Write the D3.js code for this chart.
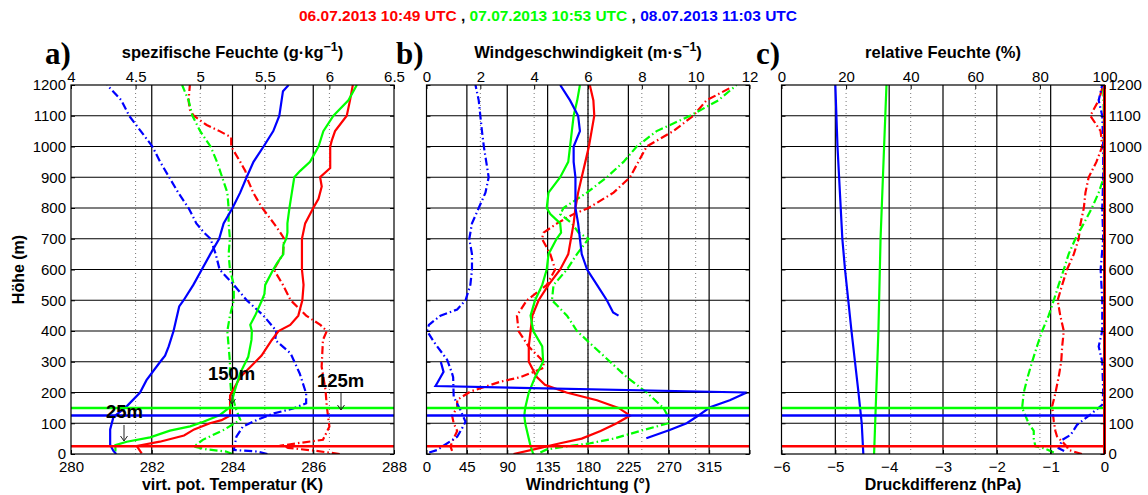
<!DOCTYPE html>
<html>
<head>
<meta charset="utf-8">
<style>
body
{
  margin:0;
  background:#fff;
}
text { font-family: "Liberation Sans", Arial, sans-serif; }
</style>
<script src="https://cdnjs.cloudflare.com/ajax/libs/d3/7.8.5/d3.min.js"></script>
</head>
<body>
<script>
// pairs are [height (m), value]
// a) virt. pot. Temperatur (K), solid
var tRed = [[2,281.75],[26,281.63],[40,282.2],[60,282.8],[80,283.05],[100,283.44],[110,283.73],[125,283.94],[190,283.94],[250,284.19],[320,284.72],[370,284.97],[400,285.14],[420,285.43],[450,285.63],[500,285.73],[550,285.76],[600,285.72],[700,285.72],[750,285.8],[800,286.0],[830,286.13],[870,286.21],[900,286.17],[930,286.42],[1000,286.42],[1020,286.46],[1050,286.54],[1100,286.83],[1150,286.91],[1200,286.98]];
var tGreen = [[8,281.1],[29,281.1],[40,281.38],[54,281.96],[76,282.45],[90,282.95],[105,283.28],[127,283.69],[154,283.95],[208,284.06],[263,284.19],[316,284.39],[371,284.47],[400,284.48],[420,284.44],[450,284.56],[500,284.73],[520,284.79],[550,284.81],[600,285.01],[620,285.1],[650,285.26],[680,285.26],[700,285.33],[720,285.36],[750,285.36],[800,285.41],[850,285.47],[900,285.53],[920,285.67],[950,285.92],[1000,286.13],[1050,286.25],[1100,286.5],[1150,286.87],[1200,287.08]];
var tBlue = [[0,281.12],[10,281.05],[30,280.97],[80,280.97],[120,281.05],[155,281.38],[200,281.71],[240,281.87],[300,282.21],[320,282.33],[350,282.42],[400,282.54],[480,282.68],[500,282.79],[550,283.03],[600,283.24],[650,283.45],[700,283.67],[750,283.78],[800,284.0],[850,284.19],[900,284.35],[950,284.52],[1000,284.77],[1050,285.01],[1100,285.16],[1180,285.25],[1200,285.39]];
// a) spezifische Feuchte (g/kg), dash-dot
var qRed = [[0,6.08],[10,5.9],[20,5.68],[28,5.64],[35,5.75],[46,5.95],[89,6.0],[154,5.98],[208,5.97],[284,5.94],[371,5.95],[400,5.98],[420,5.93],[450,5.82],[500,5.7],[550,5.64],[600,5.57],[650,5.64],[700,5.65],[720,5.62],[750,5.57],[800,5.48],[850,5.41],[900,5.36],[920,5.35],[950,5.31],[1000,5.24],[1030,5.24],[1050,5.15],[1070,5.05],[1100,4.95],[1120,4.92],[1150,4.91],[1200,4.92]];
var qGreen = [[0,5.25],[8,5.2],[15,5.05],[24,4.95],[46,5.02],[78,5.18],[111,5.31],[143,5.28],[200,5.24],[250,5.23],[300,5.23],[350,5.22],[400,5.21],[450,5.23],[500,5.26],[550,5.26],[600,5.23],[650,5.22],[700,5.23],[750,5.22],[800,5.22],[850,5.21],[900,5.17],[950,5.13],[1000,5.08],[1050,5.0],[1100,4.94],[1150,4.91],[1200,4.86]];
var qBlue = [[0,5.52],[8,5.44],[13,5.26],[56,5.28],[89,5.33],[111,5.44],[132,5.57],[148,5.72],[165,5.82],[197,5.82],[262,5.77],[327,5.7],[371,5.58],[400,5.59],[450,5.49],[500,5.36],[550,5.26],[600,5.15],[650,5.12],[700,5.08],[720,5.03],[750,4.97],[800,4.91],[850,4.83],[900,4.76],[950,4.69],[1000,4.63],[1100,4.45],[1150,4.39],[1200,4.28]];

// b) Windrichtung (deg), solid
var dirRed = [[0,97],[20,127],[35,149],[50,173],[75,194],[100,212],[125,227],[150,214],[175,190],[200,156],[225,132],[250,123],[300,114],[350,114],[400,116],[450,118],[500,125],[550,136],[600,149],[650,158],[700,161],[750,164],[800,166],[850,169],[900,173],[950,177],[1000,181],[1050,184],[1100,187],[1150,186],[1200,182]];
var dirGreen = [[0,119],[25,116],[50,114],[100,110],[125,109],[150,110],[200,114],[250,121],[300,130],[350,129],[400,119],[450,116],[500,121],[550,129],[600,134],[650,136],[700,145],[720,150],[750,149],[780,138],[800,134],[850,136],[900,149],[950,158],[1000,160],[1050,162],[1100,164],[1150,168],[1200,171]];
var dirBlueLow = [[51,245],[78,271],[100,290],[121,301],[152,316],[175,338],[200,357],[221,10],[231,12],[267,19],[299,16]];
var dirBlueHigh = [[450,214],[460,208],[500,201],[550,190],[600,179],[650,173],[700,171],[750,169],[800,166],[850,166],[900,166],[950,164],[1000,164],[1050,171],[1100,169],[1150,160],[1200,149]];
// b) Windgeschwindigkeit (m/s), dash-dot
var spdRed = [[10,0.95],[25,0.89],[50,1.01],[75,1.14],[100,1.01],[125,0.95],[150,1.14],[176,1.14],[203,1.63],[235,2.74],[250,3.49],[280,4.35],[300,4.35],[350,3.79],[400,3.42],[450,3.36],[500,3.73],[550,4.47],[600,4.78],[650,4.6],[700,4.29],[720,4.35],[750,4.85],[780,5.46],[800,6.02],[850,6.95],[900,7.56],[950,7.87],[1000,8.18],[1050,9.17],[1100,9.91],[1150,10.4],[1190,11.27]];
var spdGreen = [[5,4.23],[15,4.47],[25,5.22],[35,6.08],[50,6.95],[75,7.94],[100,8.99],[120,8.99],[150,8.8],[200,8.18],[250,7.44],[300,6.82],[350,6.2],[400,5.59],[450,5.22],[500,4.66],[550,4.72],[600,5.22],[650,5.59],[700,6.02],[720,5.65],[750,5.4],[780,4.97],[800,5.09],[850,5.96],[900,6.7],[950,7.32],[1000,7.81],[1050,8.55],[1100,9.79],[1150,10.84],[1200,11.52]];
var spdBlue = [[5,0.1],[13,0.4],[25,0.6],[56,1.14],[80,1.3],[105,1.45],[143,1.26],[186,1.01],[250,0.99],[262,0.95],[306,0.77],[365,0.27],[400,0.02],[420,0.09],[450,0.52],[470,1.14],[500,1.45],[550,1.63],[600,1.69],[650,1.69],[700,1.59],[750,1.69],[800,1.94],[850,2.19],[900,2.31],[950,2.22],[1000,2.13],[1050,2.06],[1100,2.0],[1150,1.94],[1200,1.82]];

// c) Druckdifferenz (hPa), solid
var dpRed = [[0,0],[1200,0]];
var dpGreen = [[0,-4.28],[400,-4.2],[700,-4.16],[1200,-4.05]];
var dpBlue = [[0,-4.48],[100,-4.51],[200,-4.57],[400,-4.7],[600,-4.82],[700,-4.87],[1000,-4.96],[1200,-5.0]];
// c) relative Feuchte (%), dash-dot
var rhRed = [[0,93],[13,88.9],[25,88.3],[57,85.3],[75,84.8],[106,84.3],[155,83.8],[198,84.8],[250,85.8],[300,86.6],[350,86.9],[400,87.4],[450,86.3],[500,85.5],[550,86.9],[600,88.4],[650,90.5],[700,92.0],[750,92.6],[800,93.6],[850,94.1],[900,95.1],[950,97.5],[1000,99.3],[1050,98.8],[1100,95.6],[1150,98.2],[1200,99.6]];
var rhGreen = [[5,84.3],[19,81.2],[25,78.6],[50,78.1],[75,78.1],[100,76.5],[150,74.5],[200,75.0],[250,76.2],[300,77.6],[350,79.1],[400,80.7],[450,82.7],[500,84.3],[550,85.8],[600,87.4],[650,88.9],[700,91.0],[750,93.6],[800,96.1],[850,98.2],[900,99.8],[1000,99.8],[1100,99.8],[1200,99.6]];
var rhBlue = [[10,87.5],[19,85.8],[46,86.9],[62,89.5],[95,91.5],[128,95.6],[160,99.3],[200,99.6],[300,99.3],[350,98.2],[400,99.3],[500,99.3],[600,98.8],[700,99.6],[800,99.3],[900,99.6],[1000,99.6],[1100,99.3],[1150,98.2],[1200,99.3]];

// marked heights: 150 m (07.07), 125 m (08.07), 25 m (06.07)
var markHeights = [150, 125, 25];
var heightTicks = d3.range(0, 1201, 100);

var RED = "#ff0000", GREEN = "#00ff00", BLUE = "#0000ff";
var markColors = [GREEN, BLUE, RED];

var W = 1148, H = 495;
var plotTop = 85, plotBottom = 454, plotW = 323;

var svg = d3.select("body").append("svg")
  .attr("width", W)
  .attr("height", H);

var y = d3.scaleLinear().domain([0, 1200]).range([plotBottom, plotTop]);

var numFmt = function(d) { return String(+d.toFixed(2)).replace("-", "\u2212"); };

var panels = [
  {left: 71, label: "a)", labelX: 45,
   title: ["spezifische Feuchte (g\u00b7kg", "\u22121", ")"],
   xlabel: "virt. pot. Temperatur (K)",
   bot: [280, 288], botTicks: d3.range(280, 289, 2), botHide: [],
   top: [4, 6.5], topTicks: [4, 4.5, 5, 5.5, 6, 6.5],
   solid: [[tRed, RED], [tGreen, GREEN], [tBlue, BLUE]],
   dash: [[qRed, RED], [qGreen, GREEN], [qBlue, BLUE]]},
  {left: 426.5, label: "b)", labelX: 396,
   title: ["Windgeschwindigkeit (m\u00b7s", "\u22121", ")"],
   xlabel: "Windrichtung (\u00b0)",
   bot: [0, 360], botTicks: d3.range(0, 361, 45), botHide: [360],
   top: [0, 12], topTicks: d3.range(0, 13, 2),
   solid: [[dirRed, RED], [dirGreen, GREEN], [dirBlueLow, BLUE], [dirBlueHigh, BLUE]],
   dash: [[spdRed, RED], [spdGreen, GREEN], [spdBlue, BLUE]]},
  {left: 781.5, label: "c)", labelX: 756,
   title: ["relative Feuchte (%)"],
   xlabel: "Druckdifferenz (hPa)",
   bot: [-6, 0], botTicks: d3.range(-6, 0.1, 1), botHide: [],
   top: [0, 100], topTicks: d3.range(0, 101, 20),
   solid: [[dpGreen, GREEN], [dpBlue, BLUE]],
   dash: [[rhRed, RED], [rhGreen, GREEN], [rhBlue, BLUE]]}
];

// title line
var title = svg.append("text")
  .attr("x", 548)
  .attr("y", 21)
  .attr("text-anchor", "middle")
  .style("font-size", "15.5px")
  .style("font-weight", "bold");
title.append("tspan").attr("fill", RED).text("06.07.2013 10:49 UTC");
title.append("tspan").attr("fill", "#000").text(" , ");
title.append("tspan").attr("fill", GREEN).text("07.07.2013 10:53 UTC");
title.append("tspan").attr("fill", "#000").text(" , ");
title.append("tspan").attr("fill", BLUE).text("08.07.2013 11:03 UTC");

svg.append("text")
  .attr("transform", "translate(24," + ((plotTop + plotBottom) / 2) + ") rotate(-90)")
  .attr("text-anchor", "middle")
  .style("font-size", "16px")
  .style("font-weight", "bold")
  .text("H\u00f6he (m)");

panels.forEach(function(p, i) {
  var x0 = p.left, x1 = p.left + plotW;
  var xb = d3.scaleLinear().domain(p.bot).range([x0, x1]);
  var xt = d3.scaleLinear().domain(p.top).range([x0, x1]);
  var g = svg.append("g");

  var clipId = "clip" + i;
  svg.append("clipPath").attr("id", clipId)
    .append("rect").attr("x", x0).attr("y", plotTop).attr("width", plotW).attr("height", plotBottom - plotTop);

  // dotted grid from top axis
  g.selectAll(".dgrid").data(p.topTicks.slice(1, -1)).enter().append("line")
    .attr("x1", function(d) { return xt(d); }).attr("x2", function(d) { return xt(d); })
    .attr("y1", plotTop).attr("y2", plotBottom)
    .attr("stroke", "#777").attr("stroke-width", 1).attr("stroke-dasharray", "1,3");

  // solid grid from bottom axis and heights
  g.selectAll(".vgrid").data(p.botTicks.slice(1, -1)).enter().append("line")
    .attr("x1", function(d) { return xb(d); }).attr("x2", function(d) { return xb(d); })
    .attr("y1", plotTop).attr("y2", plotBottom)
    .attr("stroke", "#000").attr("stroke-width", 1.2);
  g.selectAll(".hgrid").data(heightTicks.slice(1, -1)).enter().append("line")
    .attr("x1", x0).attr("x2", x1)
    .attr("y1", function(d) { return y(d); }).attr("y2", function(d) { return y(d); })
    .attr("stroke", "#000").attr("stroke-width", 1.2);

  var curves = g.append("g").attr("clip-path", "url(#" + clipId + ")");

  p.dash.forEach(function(s) {
    var line = d3.line().x(function(d) { return xt(d[1]); }).y(function(d) { return y(d[0]); });
    curves.append("path").attr("d", line(s[0]))
      .attr("fill", "none").attr("stroke", s[1]).attr("stroke-width", 2.2)
      .attr("stroke-dasharray", "8,3,1.5,3");
  });
  p.solid.forEach(function(s) {
    var line = d3.line().x(function(d) { return xb(d[1]); }).y(function(d) { return y(d[0]); });
    curves.append("path").attr("d", line(s[0]))
      .attr("fill", "none").attr("stroke", s[1]).attr("stroke-width", 2.2);
  });

  markHeights.forEach(function(h, k) {
    curves.append("line")
      .attr("x1", x0).attr("x2", x1)
      .attr("y1", y(h)).attr("y2", y(h))
      .attr("stroke", markColors[k]).attr("stroke-width", 2.5);
  });

  if (i == 2) {
    var line = d3.line().x(function(d) { return xb(d[1]); }).y(function(d) { return y(d[0]); });
    g.append("path").attr("d", line(dpRed))
      .attr("fill", "none").attr("stroke", RED).attr("stroke-width", 3);
  }

  // frame
  g.append("rect")
    .attr("x", x0).attr("y", plotTop).attr("width", plotW).attr("height", plotBottom - plotTop)
    .attr("fill", "none").attr("stroke", "#000").attr("stroke-width", 1.2);

  // axes
  var axB = d3.axisBottom(xb).tickValues(p.botTicks).tickSizeInner(-4).tickSizeOuter(0).tickPadding(7)
    .tickFormat(function(d) { return p.botHide.indexOf(d) >= 0 ? "" : numFmt(d); });
  var gb = g.append("g").attr("transform", "translate(0," + plotBottom + ")").call(axB);
  var axT = d3.axisTop(xt).tickValues(p.topTicks).tickSizeInner(-4).tickSizeOuter(0).tickPadding(3)
    .tickFormat(numFmt);
  var gt = g.append("g").attr("transform", "translate(0," + plotTop + ")").call(axT);
  var axL = d3.axisLeft(y).tickValues(heightTicks).tickSizeInner(-4).tickSizeOuter(0).tickPadding(5)
    .tickFormat(i == 0 ? numFmt : "");
  var gl = g.append("g").attr("transform", "translate(" + x0 + ",0)").call(axL);
  var axR = d3.axisRight(y).tickValues(heightTicks).tickSizeInner(-4).tickSizeOuter(0).tickPadding(4)
    .tickFormat(i == 2 ? numFmt : "");
  var gr = g.append("g").attr("transform", "translate(" + x1 + ",0)").call(axR);
  [gb, gt, gl, gr].forEach(function(a) {
    a.select(".domain").remove();
    a.selectAll("text").style("font-size", "15px").attr("fill", "#000")
      .style("font-family", "'Liberation Sans', Arial, sans-serif");
    a.selectAll("line").attr("stroke", "#000");
  });

  // panel title
  var t = g.append("text")
    .attr("x", (x0 + x1) / 2).attr("y", 58)
    .attr("text-anchor", "middle")
    .style("font-size", "16.5px").style("font-weight", "bold");
  t.append("tspan").text(p.title[0]);
  if (p.title.length > 1) {
    t.append("tspan").attr("dy", -7).style("font-size", "12.5px").text(p.title[1]);
    t.append("tspan").attr("dy", 7).text(p.title[2]);
  }

  // bottom label
  g.append("text")
    .attr("x", (x0 + x1) / 2).attr("y", 490)
    .attr("text-anchor", "middle")
    .style("font-size", "16px").style("font-weight", "bold")
    .text(p.xlabel);

  // panel letter
  g.append("text")
    .attr("x", p.labelX).attr("y", 64)
    .style("font-family", "'Liberation Serif', 'DejaVu Serif', serif")
    .style("font-size", "31px").style("font-weight", "bold")
    .text(p.label);
});

// annotations in panel a
var notes = [
  {text: "150m", x: 208, y: 380, ax: 232, ay1: 395, ay2: 404},
  {text: "125m", x: 317, y: 387, ax: 341, ay1: 393, ay2: 410},
  {text: "25m", x: 106, y: 418, ax: 124, ay1: 425, ay2: 441}
];
notes.forEach(function(n) {
  svg.append("text")
    .attr("x", n.x).attr("y", n.y)
    .style("font-size", "18.5px").style("font-weight", "bold")
    .text(n.text);
  svg.append("path")
    .attr("d", "M" + n.ax + "," + n.ay1 + "V" + n.ay2 + "M" + (n.ax - 3.5) + "," + (n.ay2 - 5) + "L" + n.ax + "," + n.ay2 + "L" + (n.ax + 3.5) + "," + (n.ay2 - 5))
    .attr("fill", "none").attr("stroke", "#222").attr("stroke-width", 1);
});
</script>
</body>
</html>
